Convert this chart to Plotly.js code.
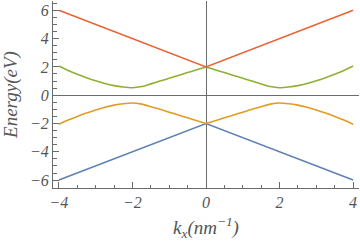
<!DOCTYPE html>
<html>
<head>
<meta charset="utf-8">
<script src="https://cdn.plot.ly/plotly-3.0.1.min.js"></script>
<style>
html,body{margin:0;padding:0;background:#fff;}
#chart{width:360px;height:241px;}
</style>
</head>
<body>
<div id="chart"></div>
<script>
// wave vector k_x (nm^-1)
const kx = [-4,-3.75,-3.5,-3.25,-3,-2.75,-2.5,-2.25,-2,-1.75,-1.5,-1.25,-1,-0.75,-0.5,-0.25,0,
            0.25,0.5,0.75,1,1.25,1.5,1.75,2,2.25,2.5,2.75,3,3.25,3.5,3.75,4];
const kLine = [-4, 0, 4];

// band energies (eV)
const upperBand  = [6, 2, 6];
const lowerBand  = [-6, -2, -6];
const greenBand  = [2.06,1.75,1.48,1.24,1.02,0.83,0.68,0.58,0.53,0.61,0.8,1.0,1.2,1.4,1.6,1.8,2.0,
                    1.8,1.6,1.4,1.2,1.0,0.8,0.61,0.53,0.58,0.68,0.83,1.02,1.24,1.48,1.75,2.06];
const yellowBand = [-2.05,-1.76,-1.5,-1.26,-1.04,-0.85,-0.7,-0.6,-0.55,-0.63,-0.81,-1.0,-1.2,-1.4,-1.6,-1.8,-2.0,
                    -1.8,-1.6,-1.4,-1.2,-1.0,-0.81,-0.63,-0.55,-0.6,-0.7,-0.85,-1.04,-1.26,-1.5,-1.76,-2.05];

const xTicks = [-4,-2,0,2,4];
const yTicks = [-6,-4,-2,0,2,4,6];
const xTitle = 'k<sub>x</sub>(nm<sup>−1</sup>)';
const yTitle = 'Energy(eV)';

const lw = 1.6;
const mid = kx.indexOf(0);
function half(arr, left){ return left ? arr.slice(0, mid+1) : arr.slice(mid); }

const traces = [
  {x: kLine, y: lowerBand, mode:'lines', line:{color:'#5E81B5', width:lw}}
];
[true,false].forEach(left=>{
  traces.push({x: half(kx,left), y: half(yellowBand,left), mode:'lines',
               line:{color:'#E19C24', width:lw, shape:'spline', smoothing:0.8}});
});
[true,false].forEach(left=>{
  traces.push({x: half(kx,left), y: half(greenBand,left), mode:'lines',
               line:{color:'#8FB032', width:lw, shape:'spline', smoothing:0.8}});
});
traces.push({x: kLine, y: upperBand, mode:'lines', line:{color:'#EB6235', width:lw}});

const serif = 'Liberation Serif, Times New Roman, serif';
const tickFont = {family:serif, size:16, color:'#555', style:'italic'};
const titleFont = {family:serif, size:19, color:'#555', style:'italic'};
const axCol = '#6b6b6b';

function axis(range, vals){
  return {
    range:range, tickvals:vals, ticktext:vals.map(v=>v<0?'−'+(-v):String(v)),
    showgrid:false, zeroline:true, zerolinecolor:axCol, zerolinewidth:1,
    showline:true, linecolor:axCol, linewidth:1, mirror:false,
    ticks:'inside', ticklen:6, tickcolor:axCol, tickwidth:1,
    minor:{dtick:0.5, tick0:0, ticks:'inside', ticklen:3.5, tickcolor:axCol, tickwidth:1, showgrid:false},
    tickfont:tickFont
  };
}

const xa = axis([-4.16,4.16], xTicks);
xa.automargin = true;
xa.title = {text:xTitle, font:titleFont, standoff:10};
const ya = axis([-6.56,6.66], yTicks);
ya.title = {text:yTitle, font:titleFont, standoff:10};

const layout = {
  width:360, height:241,
  margin:{l:53, r:1, t:1, b:53},
  paper_bgcolor:'#fff', plot_bgcolor:'#fff',
  showlegend:false,
  xaxis:xa, yaxis:ya
};

Plotly.newPlot('chart', traces, layout, {staticPlot:true, displayModeBar:false});
</script>
</body>
</html>
